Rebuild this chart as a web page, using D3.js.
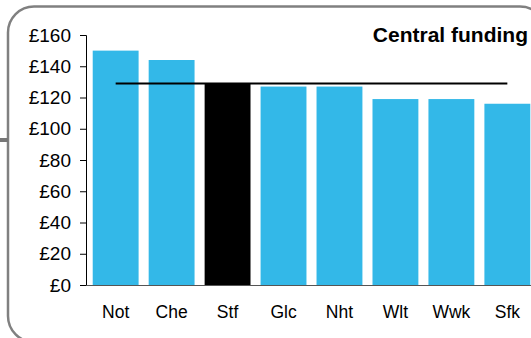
<!DOCTYPE html>
<html><head><meta charset="utf-8">
<script src="https://cdn.jsdelivr.net/npm/d3@7/dist/d3.min.js"></script>
<style>body{margin:0;background:#fff;}svg{display:block;}</style>
</head><body>
<script>
const categories = ["Not","Che","Stf","Glc","Nht","Wlt","Wwk","Sfk"];
const values = [150,144,129,127,127,119,119,116];
const highlight = "Stf";
const referenceValue = 129;
const yTicks = [0,20,40,60,80,100,120,140,160];
const title = "Central funding";

const W = 531, H = 338;
const svg = d3.select("body").append("svg").attr("width", W).attr("height", H);

// frame
svg.append("rect").attr("x", 8).attr("y", 6.5).attr("width", 538).attr("height", 335.5)
  .attr("rx", 26).attr("fill", "none").attr("stroke", "#808080").attr("stroke-width", 2.5);
svg.append("line").attr("x1", 0).attr("x2", 8).attr("y1", 140).attr("y2", 140)
  .attr("stroke", "#777").attr("stroke-width", 4);

const x = d3.scaleBand().domain(categories).range([86, 537]).paddingInner(0.18).paddingOuter(0.12);
const y = d3.scaleLinear().domain([0,160]).range([285, 35]);

const font = "'Liberation Sans', Arial, sans-serif";

svg.append("g").selectAll("rect").data(categories).join("rect")
  .attr("x", d => x(d)).attr("width", x.bandwidth())
  .attr("y", (d,i) => y(values[i])).attr("height", (d,i) => y(0) - y(values[i]))
  .attr("fill", d => d === highlight ? "#000000" : "#33b8e8");

// reference line
svg.append("line")
  .attr("x1", x(categories[0]) + x.bandwidth()/2)
  .attr("x2", x(categories[categories.length-1]) + x.bandwidth()/2)
  .attr("y1", y(referenceValue)).attr("y2", y(referenceValue))
  .attr("stroke", "#000").attr("stroke-width", 2);

// y axis
const yAxis = svg.append("g").attr("transform", "translate(86,0)")
  .call(d3.axisLeft(y).tickValues(yTicks).tickSize(6).tickPadding(9).tickFormat(d => "£" + d));
yAxis.selectAll("text").attr("font-family", font).attr("font-size", 19).attr("fill", "#000");
yAxis.selectAll("line").attr("stroke", "#000");
yAxis.select(".domain").attr("stroke", "#000");

// x axis
const xAxis = svg.append("g").attr("transform", "translate(0,285)")
  .call(d3.axisBottom(x).tickSize(0).tickPadding(21));
xAxis.select(".domain").attr("stroke", "#555");
xAxis.selectAll("text").attr("font-family", font).attr("font-size", 17.5).attr("fill", "#000");

svg.append("text").attr("x", 528).attr("y", 42).attr("text-anchor", "end")
  .attr("font-family", font).attr("font-weight", "bold").attr("font-size", 21).attr("fill", "#000")
  .text(title);
</script>
</body></html>
